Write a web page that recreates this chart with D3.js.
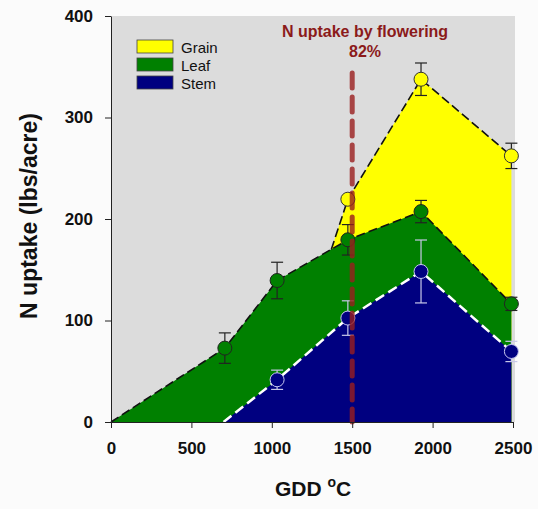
<!DOCTYPE html>
<html>
<head>
<meta charset="utf-8">
<script src="https://cdn.jsdelivr.net/npm/d3@7"></script>
<style>
  body { margin: 0; background: #fbfbfb; }
  svg { display: block; font-family: Arial, "Liberation Sans", sans-serif; }
</style>
</head>
<body>
<div class="container"></div>
<script>
// data (cumulative N uptake, lbs/acre)
var leafGdd = [0, 708, 1033, 1473, 1928, 2490];
var leafVal = [0, 72.8, 139.4, 179.5, 207.3, 116.4];
var leafErr = [null, 15, 18, 15, 11, 6.5];

var stemGdd = [700, 1033, 1473, 1928, 2490];
var stemVal = [0, 41.6, 102.4, 148.3, 69.5];
var stemErr = [null, 9.5, 17, 31, 10];

var grainGdd = [1370, 1473, 1928, 2490];
var grainVal = [170, 219.5, 337.7, 262.2];
var grainErr = [null, 3, 16, 12.5];

var xTicks = [0, 500, 1000, 1500, 2000, 2500];
var yTicks = [0, 100, 200, 300, 400];
var floweringGdd = 1500;

var legendNames = ["Grain", "Leaf", "Stem"];
var legendColors = ["#ffff00", "#008000", "#000080"];

// svg container
var svgWidth = 538, svgHeight = 509;
var margin = { top: 16, right: 25, bottom: 87, left: 111 };
var width = svgWidth - margin.left - margin.right;
var height = svgHeight - margin.top - margin.bottom;

var svg = d3.select(".container").append("svg")
  .attr("width", svgWidth)
  .attr("height", svgHeight);

var chartGroup = svg.append("g")
  .attr("transform", `translate(${margin.left}, ${margin.top})`);

var x = d3.scaleLinear().domain([0, 2500]).range([0, width]);
var y = d3.scaleLinear().domain([0, 400]).range([height, 0]);

// plot background
chartGroup.append("rect")
  .attr("width", width + 2)
  .attr("height", height)
  .attr("fill", "#dcdcdc");

function makeSeries(gdd, vals, errs) {
  return gdd.map(function(g, i) { return { x: g, y: vals[i], e: errs[i] }; });
}
var grain = makeSeries(grainGdd, grainVal, grainErr);
var leaf = makeSeries(leafGdd, leafVal, leafErr);
var stem = makeSeries(stemGdd, stemVal, stemErr);

var area = d3.area().x(d => x(d.x)).y0(y(0)).y1(d => y(d.y));
var line = d3.line().x(d => x(d.x)).y(d => y(d.y));

// areas, back to front
chartGroup.append("path").datum(grain).attr("d", area).attr("fill", "#ffff00");
chartGroup.append("path").datum(leaf).attr("d", area).attr("fill", "#008000");
chartGroup.append("path").datum(stem).attr("d", area).attr("fill", "#000080");

// top lines
chartGroup.append("path").datum(grain).attr("d", line)
  .attr("fill", "none").attr("stroke", "#111").attr("stroke-width", 1.6)
  .attr("stroke-dasharray", "9,4");
chartGroup.append("path").datum(leaf).attr("d", line)
  .attr("fill", "none").attr("stroke", "#111").attr("stroke-width", 1.6)
  .attr("stroke-dasharray", "9,4");
chartGroup.append("path").datum(stem).attr("d", line)
  .attr("fill", "none").attr("stroke", "#ffffff").attr("stroke-width", 2.5)
  .attr("stroke-dasharray", "10,5");

// error bars + points
function drawPoints(data, fill, stroke, barColor) {
  var pts = data.filter(d => d.e !== null);
  var g = chartGroup.append("g");
  pts.forEach(function(d) {
    var cx = x(d.x);
    g.append("line").attr("x1", cx).attr("x2", cx)
      .attr("y1", y(d.y + d.e)).attr("y2", y(d.y - d.e))
      .attr("stroke", barColor).attr("stroke-width", 1.2);
    [d.y + d.e, d.y - d.e].forEach(function(v) {
      g.append("line").attr("x1", cx - 6).attr("x2", cx + 6)
        .attr("y1", y(v)).attr("y2", y(v))
        .attr("stroke", barColor).attr("stroke-width", 1.2);
    });
  });
  g.selectAll("circle").data(pts).enter().append("circle")
    .attr("cx", d => x(d.x))
    .attr("cy", d => y(d.y))
    .attr("r", 7)
    .attr("fill", fill)
    .attr("stroke", stroke)
    .attr("stroke-width", 1);
}
drawPoints(grain, "#ffff00", "#333", "#222");
drawPoints(leaf, "#008000", "#222", "#222");
drawPoints(stem, "#000080", "#c8c8f0", "#c8c8e8");

// flowering line
chartGroup.append("line")
  .attr("x1", x(floweringGdd)).attr("x2", x(floweringGdd))
  .attr("y1", 57).attr("y2", height)
  .attr("stroke", "#9a1e1e").attr("stroke-opacity", 0.8)
  .attr("stroke-width", 5).attr("stroke-linecap", "round")
  .attr("stroke-dasharray", "15,9");

chartGroup.append("text")
  .attr("x", 254).attr("y", 21)
  .attr("text-anchor", "middle")
  .attr("font-size", "16px").attr("font-weight", "bold")
  .attr("fill", "#8b1a1a")
  .text("N uptake by flowering");
chartGroup.append("text")
  .attr("x", 254).attr("y", 41)
  .attr("text-anchor", "middle")
  .attr("font-size", "16px").attr("font-weight", "bold")
  .attr("fill", "#8b1a1a")
  .text("82%");

// legend
var legend = chartGroup.append("g").attr("transform", "translate(26, 24)");
legendNames.forEach(function(name, i) {
  legend.append("rect")
    .attr("x", 0).attr("y", i * 18)
    .attr("width", 36).attr("height", 13)
    .attr("fill", legendColors[i])
    .attr("stroke", "#444").attr("stroke-width", 0.8);
  legend.append("text")
    .attr("x", 44).attr("y", i * 18 + 12.5)
    .attr("font-size", "15px")
    .attr("fill", "#111")
    .text(name);
});

// axes
var bottomAxis = d3.axisBottom(x).tickValues(xTicks).tickFormat(d3.format("d"))
  .tickSize(6).tickSizeOuter(0).tickPadding(14);
var leftAxis = d3.axisLeft(y).tickValues(yTicks).tickFormat(d3.format("d"))
  .tickSize(6).tickSizeOuter(0).tickPadding(12);

var xg = chartGroup.append("g")
  .attr("transform", `translate(0, ${height})`)
  .call(bottomAxis);
var yg = chartGroup.append("g").call(leftAxis);

[xg, yg].forEach(function(g) {
  g.selectAll("text").attr("font-size", "17px").attr("font-weight", "bold")
    .attr("fill", "#111").attr("font-family", "Arial, 'Liberation Sans', sans-serif");
  g.selectAll("line, path").attr("stroke", "#222");
});

// axis labels
chartGroup.append("text")
  .attr("transform", "rotate(-90)")
  .attr("x", -(height / 2) + 3)
  .attr("y", -74)
  .attr("text-anchor", "middle")
  .attr("font-size", "23px").attr("font-weight", "bold")
  .attr("fill", "#111")
  .text("N uptake (lbs/acre)");

var xt = chartGroup.append("text")
  .attr("x", 202).attr("y", height + 74)
  .attr("text-anchor", "middle")
  .attr("font-size", "21px").attr("font-weight", "bold")
  .attr("fill", "#111");
xt.append("tspan").text("GDD ");
xt.append("tspan").attr("font-size", "14px").attr("dy", "-9").text("o");
xt.append("tspan").attr("dy", "9").text("C");
</script>
</body>
</html>
